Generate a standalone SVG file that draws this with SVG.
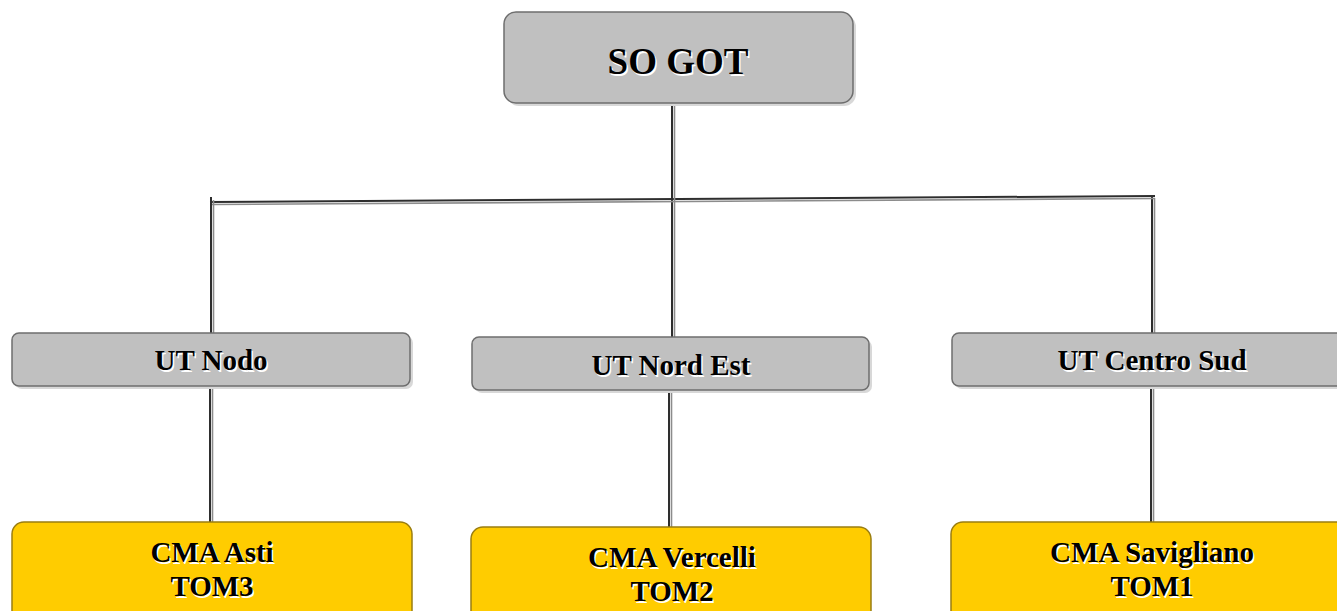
<svg xmlns="http://www.w3.org/2000/svg" width="1337" height="611" viewBox="0 0 1337 611">
  <style>
    .box-grey { fill: #c0c0c0; stroke: #6e6e6e; stroke-width: 1.5; }
    .box-gold { fill: #ffcc00; stroke: #9a7d10; stroke-width: 1.5; }
    .shadow { fill: #d8d8d8; }
    .lbl { font-family: "Liberation Serif", "Times New Roman", serif; font-weight: bold; text-anchor: middle; fill: #000; }
    .lbl-sh { font-family: "Liberation Serif", "Times New Roman", serif; font-weight: bold; text-anchor: middle; fill: #fff; }
    .wire-a { stroke: #2e2e2e; stroke-width: 2; fill: none; }
    .wire-b { stroke: #8c8c8c; stroke-width: 1.6; fill: none; }
  </style>

  <!-- connectors: each drawn as a dark line with a paler line beside it -->
  <g id="connectors">
    <g class="wire-a">
      <line x1="672" y1="98" x2="672" y2="338"/>
      <line x1="210" y1="202" x2="1155" y2="196"/>
      <line x1="211" y1="197" x2="211" y2="334"/>
      <line x1="1152" y1="196" x2="1152" y2="334"/>
      <line x1="210" y1="386" x2="210" y2="522"/>
      <line x1="669" y1="390" x2="669" y2="527"/>
      <line x1="1151" y1="386" x2="1151" y2="522"/>
    </g>
    <g class="wire-b">
      <line x1="674.5" y1="98" x2="674.5" y2="338"/>
      <line x1="212" y1="204.5" x2="1155" y2="198.5"/>
      <line x1="213.5" y1="200" x2="213.5" y2="334"/>
      <line x1="1154.5" y1="198" x2="1154.5" y2="334"/>
      <line x1="212.5" y1="386" x2="212.5" y2="522"/>
      <line x1="671.5" y1="390" x2="671.5" y2="527"/>
      <line x1="1153.5" y1="386" x2="1153.5" y2="522"/>
    </g>
  </g>

  <g id="so-got">
    <rect class="shadow" x="507" y="15" width="349" height="91" rx="12"/>
    <rect class="box-grey" x="504" y="12" width="349" height="91" rx="12"/>
    <text class="lbl-sh" x="679.5" y="75.5" font-size="37">SO GOT</text>
    <text class="lbl" x="678" y="74" font-size="37">SO GOT</text>
  </g>

  <g id="ut-nodo">
    <rect class="shadow" x="15" y="336" width="398" height="53" rx="7"/>
    <rect class="box-grey" x="12" y="333" width="398" height="53" rx="7"/>
    <text class="lbl-sh" x="212.5" y="371.5" font-size="29">UT Nodo</text>
    <text class="lbl" x="211" y="370" font-size="29">UT Nodo</text>
  </g>

  <g id="ut-nord-est">
    <rect class="shadow" x="475" y="340" width="397" height="53" rx="7"/>
    <rect class="box-grey" x="472" y="337" width="397" height="53" rx="7"/>
    <text class="lbl-sh" x="672.5" y="376.5" font-size="29">UT Nord Est</text>
    <text class="lbl" x="671" y="375" font-size="29">UT Nord Est</text>
  </g>

  <g id="ut-centro-sud">
    <rect class="shadow" x="955" y="336" width="400" height="53" rx="7"/>
    <rect class="box-grey" x="952" y="333" width="400" height="53" rx="7"/>
    <text class="lbl-sh" x="1153.5" y="371.5" font-size="29">UT Centro Sud</text>
    <text class="lbl" x="1152" y="370" font-size="29">UT Centro Sud</text>
  </g>

  <g id="cma-asti">
    <rect class="box-gold" x="12" y="522" width="400" height="110" rx="12"/>
    <text class="lbl-sh" x="213.5" y="563.5" font-size="29">CMA Asti</text>
    <text class="lbl" x="212" y="562" font-size="29">CMA Asti</text>
    <text class="lbl-sh" x="213.5" y="597.5" font-size="29">TOM3</text>
    <text class="lbl" x="212" y="596" font-size="29">TOM3</text>
  </g>

  <g id="cma-vercelli">
    <rect class="box-gold" x="471" y="527" width="400" height="110" rx="12"/>
    <text class="lbl-sh" x="673.5" y="568.5" font-size="29">CMA Vercelli</text>
    <text class="lbl" x="672" y="567" font-size="29">CMA Vercelli</text>
    <text class="lbl-sh" x="673.5" y="602.5" font-size="29">TOM2</text>
    <text class="lbl" x="672" y="601" font-size="29">TOM2</text>
  </g>

  <g id="cma-savigliano">
    <rect class="box-gold" x="951" y="522" width="400" height="110" rx="12"/>
    <text class="lbl-sh" x="1153.5" y="563.5" font-size="29">CMA Savigliano</text>
    <text class="lbl" x="1152" y="562" font-size="29">CMA Savigliano</text>
    <text class="lbl-sh" x="1153.5" y="597.5" font-size="29">TOM1</text>
    <text class="lbl" x="1152" y="596" font-size="29">TOM1</text>
  </g>
</svg>
